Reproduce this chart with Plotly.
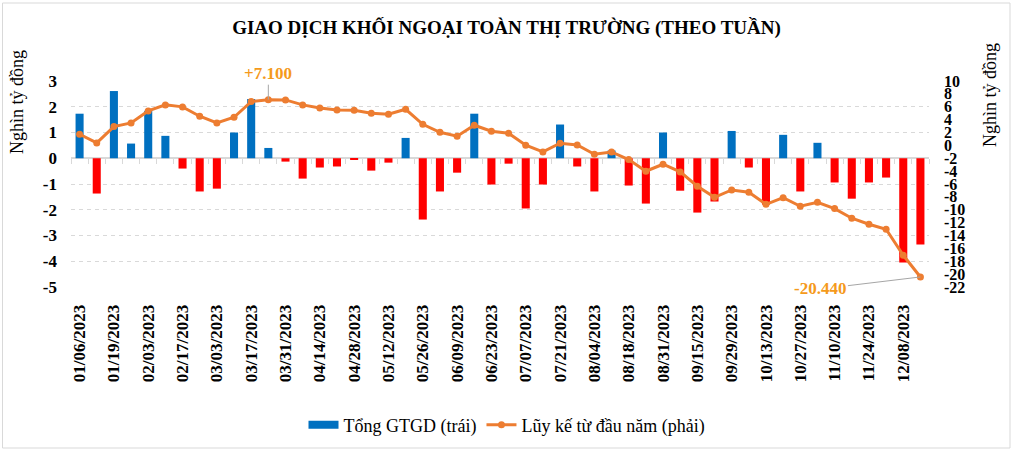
import plotly.graph_objects as go

# ---------------- data ----------------
weeks = [
    "01/06/2023", "01/13/2023", "01/19/2023", "01/27/2023", "02/03/2023", "02/10/2023",
    "02/17/2023", "02/24/2023", "03/03/2023", "03/10/2023", "03/17/2023", "03/24/2023",
    "03/31/2023", "04/07/2023", "04/14/2023", "04/21/2023", "04/28/2023", "05/05/2023",
    "05/12/2023", "05/19/2023", "05/26/2023", "06/02/2023", "06/09/2023", "06/16/2023",
    "06/23/2023", "06/30/2023", "07/07/2023", "07/14/2023", "07/21/2023", "07/28/2023",
    "08/04/2023", "08/11/2023", "08/18/2023", "08/25/2023", "08/31/2023", "09/08/2023",
    "09/15/2023", "09/22/2023", "09/29/2023", "10/06/2023", "10/13/2023", "10/20/2023",
    "10/27/2023", "11/03/2023", "11/10/2023", "11/17/2023", "11/24/2023", "12/01/2023",
    "12/08/2023", "12/15/2023",
]
tick_labels = weeks[::2]

weekly_net = [
    1.73, -1.37, 2.61, 0.57, 1.84, 0.87, -0.40, -1.29, -1.18, 1.00,
    2.30, 0.40, -0.13, -0.79, -0.36, -0.32, -0.05, -0.48, -0.17, 0.79,
    -2.38, -1.29, -0.56, 1.73, -1.02, -0.21, -1.95, -1.02, 1.31, -0.32,
    -1.29, 0.30, -1.06, -1.76, 1.00, -1.26, -2.11, -1.68, 1.06, -0.36,
    -1.80, 0.91, -1.29, 0.60, -0.94, -1.57, -0.94, -0.75, -4.05, -3.35,
]

cumulative = [
    1.73, 0.38, 2.92, 3.49, 5.35, 6.29, 5.98, 4.53, 3.49, 4.37,
    6.80, 7.10, 7.06, 6.29, 5.82, 5.48, 5.46, 5.00, 4.84, 5.61,
    3.28, 2.04, 1.42, 3.13, 2.19, 1.88, 0.02, -1.02, 0.33, 0.07,
    -1.38, -1.02, -2.21, -4.02, -2.93, -4.12, -6.35, -8.06, -6.92, -7.28,
    -9.15, -8.12, -9.46, -8.84, -9.82, -11.32, -12.25, -13.03, -17.07, -20.44,
]

left_ticks = [3, 2, 1, 0, -1, -2, -3, -4, -5]
right_ticks = list(range(10, -23, -2))

max_label = "+7.100"
min_label = "-20.440"

# ---------------- styling ----------------
W, H = 1013, 451
ML, MR, MT, MB = 71, 84, 81, 164
PW, PH = W - ML - MR, H - MT - MB

BLUE = "#0070C0"
RED = "#FF0000"
ORANGE = "#ED7D31"
LABEL_ORANGE = "#F59A1B"
GRID = "#D9D9D9"
SERIF = "Liberation Serif, Times New Roman, serif"


def px_x(px):
    return (px - ML) / PW


def px_y(py):
    return (H - MB - py) / PH


bar_colors = [BLUE if v >= 0 else RED for v in weekly_net]

fig = go.Figure()
fig.add_trace(go.Bar(
    x=weeks, y=weekly_net, name="Tổng GTGD (trái)",
    marker=dict(color=bar_colors, line=dict(width=0)),
    yaxis="y", showlegend=False,
))
# legend swatch for the bars (wide rectangle like the original)
fig.add_trace(go.Scatter(
    x=[None], y=[None], name="Tổng GTGD (trái)", mode="lines",
    line=dict(color=BLUE, width=8), yaxis="y", showlegend=True,
))
fig.add_trace(go.Scatter(
    x=weeks, y=cumulative, name="Lũy kế từ đầu năm (phải)",
    mode="lines+markers",
    line=dict(color=ORANGE, width=3),
    marker=dict(color=ORANGE, size=7),
    yaxis="y2",
))
# invisible trace to carry category tick marks on the zero line
fig.add_trace(go.Scatter(
    x=weeks, y=weekly_net, xaxis="x2", yaxis="y", mode="none",
    showlegend=False, hoverinfo="skip",
))

i_max = cumulative.index(max(cumulative))
i_min = cumulative.index(min(cumulative))

annotations = [
    dict(x=weeks[i_max], y=cumulative[i_max], xref="x", yref="y2",
         text="<b>" + max_label + "</b>", showarrow=True, arrowhead=0,
         arrowwidth=1, arrowcolor="#A6A6A6", ax=0, ay=-26,
         font=dict(family=SERIF, size=17, color=LABEL_ORANGE)),
    dict(x=weeks[i_min], y=cumulative[i_min], xref="x", yref="y2",
         text="<b>" + min_label + "</b>", showarrow=True, arrowhead=0,
         arrowwidth=1, arrowcolor="#A6A6A6", ax=-100, ay=12,
         font=dict(family=SERIF, size=17, color=LABEL_ORANGE)),
    dict(x=px_x(17), y=px_y(102), xref="paper", yref="paper",
         xanchor="center", yanchor="middle",
         text="Nghìn tỷ đồng", textangle=-90, showarrow=False,
         font=dict(family=SERIF, size=18, color="#000000")),
    dict(x=px_x(990), y=px_y(95), xref="paper", yref="paper",
         xanchor="center", yanchor="middle",
         text="Nghìn tỷ đồng", textangle=-90, showarrow=False,
         font=dict(family=SERIF, size=18, color="#000000")),
]

shapes = [
    dict(type="rect", xref="paper", yref="paper",
         x0=px_x(2.5), x1=px_x(1010), y0=px_y(448), y1=px_y(3),
         line=dict(color="#D9D9D9", width=1), fillcolor="rgba(0,0,0,0)", layer="below"),
]

cat_range = [-0.5, len(weeks) - 0.5]

fig.update_layout(
    width=W, height=H,
    margin=dict(l=ML, r=MR, t=MT, b=MB, autoexpand=False),
    paper_bgcolor="white", plot_bgcolor="white",
    title=dict(text="<b>GIAO DỊCH KHỐI NGOẠI TOÀN THỊ TRƯỜNG (THEO TUẦN)</b>",
               x=0.5, xanchor="center", y=1 - 27 / H, yanchor="middle",
               font=dict(family=SERIF, size=19, color="#000000")),
    bargap=0.53,
    showlegend=True,
    legend=dict(orientation="h", x=px_x(507), xanchor="center",
                y=px_y(425), yanchor="middle",
                font=dict(family=SERIF, size=18, color="#000000"),
                bgcolor="rgba(0,0,0,0)", itemwidth=30, traceorder="normal"),
    xaxis=dict(
        type="category", range=cat_range, autorange=False,
        tickmode="array", tickvals=tick_labels, ticktext=tick_labels,
        tickangle=-90, ticks="outside", ticklen=10, tickcolor="rgba(0,0,0,0)",
        tickfont=dict(family=SERIF, size=17, color="#000000", weight="bold"),
        showgrid=False, showline=False, zeroline=False, automargin=False,
    ),
    xaxis2=dict(
        type="category", range=cat_range, autorange=False, overlaying="x",
        anchor="free", position=0.625, side="bottom",
        tickmode="linear", tick0=0, dtick=1, tickson="boundaries",
        ticks="outside", ticklen=5, tickcolor=GRID, tickwidth=1,
        showticklabels=False, showgrid=False, showline=False, zeroline=False,
        automargin=False,
    ),
    yaxis=dict(
        range=[-5, 3], autorange=False, tickmode="array", tickvals=left_ticks,
        ticktext=[str(v) for v in left_ticks],
        tickfont=dict(family=SERIF, size=17, color="#000000", weight="bold"),
        showgrid=True, gridcolor=GRID, griddash="4px,4px", gridwidth=1,
        zeroline=True, zerolinecolor=GRID, zerolinewidth=1.5,
        showline=False, ticks="", ticklabelstandoff=13, automargin=False,
    ),
    yaxis2=dict(
        range=[-22, 10], autorange=False, overlaying="y", side="right",
        tickmode="array", tickvals=right_ticks,
        ticktext=[str(v) for v in right_ticks],
        tickfont=dict(family=SERIF, size=16, color="#000000", weight="bold"),
        showgrid=False, zeroline=False, showline=False, ticks="",
        ticklabelstandoff=14, automargin=False,
    ),
    annotations=annotations,
    shapes=shapes,
)

fig.write_html("out.html", config={"displayModeBar": False},
               post_script="document.body.style.margin='0';")
